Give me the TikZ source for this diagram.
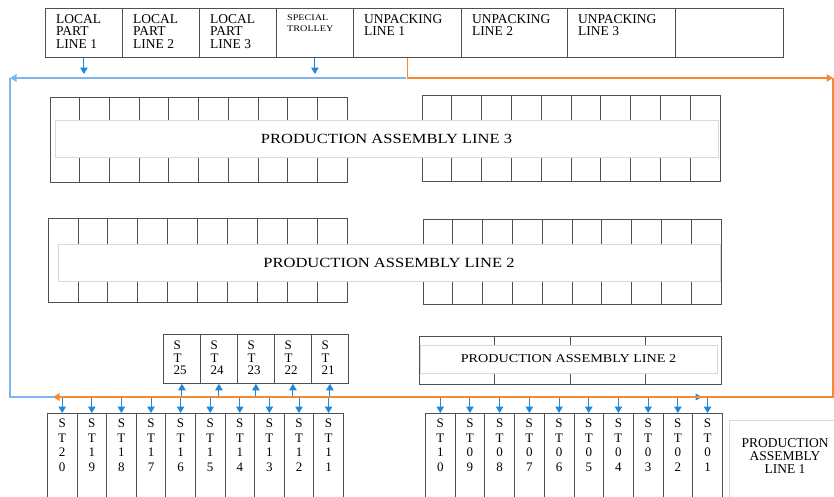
\documentclass[tikz,border=0pt]{standalone}
\usepackage{fontspec}
\setmainfont{Liberation Serif}
\newfontfamily\widefont[FakeStretch=1.18]{Liberation Serif}
\usetikzlibrary{arrows.meta,positioning}
\definecolor{LineBlue}{RGB}{125,182,236}
\definecolor{ArrowBlue}{RGB}{28,136,222}
\definecolor{BeltOrange}{RGB}{244,139,52}
\definecolor{GridGray}{RGB}{80,80,80}

\tikzset{
	gridline/.style={draw=GridGray, line width=0.8pt},
	hdrbox/.style={gridline, anchor=north west, minimum height=49pt, inner sep=0pt},
	hdrtext/.style={anchor=north west, align=left, inner xsep=11pt, inner ysep=6.5pt, font=\fontsize{13.5}{12.3}\selectfont},
	palbox/.style={draw=gray!30, line width=0.8pt, fill=white, inner sep=0pt, font=\widefont\fontsize{14}{16}\selectfont},
	stbox/.style={gridline, anchor=north west, inner sep=0pt, minimum width=29.6pt, minimum height=100pt},
	stboxs/.style={gridline, anchor=north west, inner sep=0pt, minimum width=37pt, minimum height=49pt},
	sttext/.style={anchor=north, align=center, inner xsep=0pt, inner ysep=6pt, font=\fontsize{13}{14.5}\selectfont},
	sttexts/.style={anchor=north west, align=left, inner xsep=10.5pt, inner ysep=7pt, font=\fontsize{13}{12.5}\selectfont},
	beltblue/.style={LineBlue, line width=1.2pt},
	beltorange/.style={BeltOrange, line width=1.8pt},
	tip/.style={-{Triangle[width=7.5pt,length=6.5pt]}},
	arr/.style={ArrowBlue, line width=1pt, tip},
}

\begin{document}
\begin{tikzpicture}[x=1pt,y=1pt,yscale=-1,xscale=1]
	\useasboundingbox (0,0) rectangle (834,496);
	\clip (0,0) rectangle (834,496);

	% Header: part supply and unpacking lines
	\foreach \xa/\w/\nm/\txt in {45/77/lp1/{LOCAL\\PART\\LINE 1}, 122/77/lp2/{LOCAL\\PART\\LINE 2}, 199/77/lp3/{LOCAL\\PART\\LINE 3}, 276/77/strl/{}, 353/108/unp1/{UNPACKING\\LINE 1}, 461/106/unp2/{UNPACKING\\LINE 2}, 567/108/unp3/{UNPACKING\\LINE 3}, 675/108/spare/{}}
	{
		\node[hdrbox, minimum width=\w pt] (\nm) at (\xa,8) {};
		\node[hdrtext] at (\nm.north west) {\txt};
	}
	\node[hdrtext, inner ysep=7pt, font=\widefont\fontsize{8.6}{10.5}\selectfont] at (strl.north west) {SPECIAL\\TROLLEY};

	% Loop corners of the two feeding belts
	\coordinate (feed) at (0,74);
	\coordinate (belt) at (0,397);
	\coordinate (bNE) at (406,78);
	\coordinate (bNW) at (10,78);
	\coordinate (bSW) at (10,397);
	\coordinate (bSE) at (702,397);
	\coordinate (oNE) at (833,78);
	\coordinate (oSE) at (833,397);
	\coordinate (oSW) at (53,397);

	% Blue belt (left loop)
	\draw[beltblue, tip] (bNE) -- (bNW);
	\draw[beltblue] (bNW) -- (bSW) -- (bSE);
	\draw[beltblue, draw=none, fill=ArrowBlue] (bSE) -- ++(-6.5,-3.5) -- ++(0,7) -- cycle;

	% Feeding arrows from the header
	\draw[arr] (lp1.south) -- (lp1.south |- feed);
	\draw[arr] (strl.south) -- (strl.south |- feed);

	% Production assembly lines 3 and 2 (cell rows)
	\foreach \xa/\ya/\xb/\yb/\n in {50/97/347/182/10, 422/95/720/181/10, 48/218/347/302/10, 423/219/721/304/10, 419/336/721/384/4}
	{
		\draw[gridline] (\xa,\ya) rectangle (\xb,\yb);
		\pgfmathtruncatemacro\nn{\n-1}
		\foreach \k in {1,...,\nn}
			\draw[gridline] ({\xa+\k*(\xb-\xa)/\n},\ya) -- ({\xa+\k*(\xb-\xa)/\n},\yb);
	}
	\node[palbox, minimum width=663pt, minimum height=37pt] (pal3) at (386.5,138.5) {PRODUCTION ASSEMBLY LINE 3};
	\node[palbox, minimum width=662pt, minimum height=37pt] (pal2) at (389,262.5) {PRODUCTION ASSEMBLY LINE 2};
	\node[palbox, minimum width=297pt, minimum height=28pt, font=\widefont\fontsize{12}{14}\selectfont] (pal2b) at (568.5,359) {PRODUCTION ASSEMBLY LINE 2};

	% Stations ST25 - ST21
	\foreach \i in {0,...,4}
	{
		\pgfmathtruncatemacro\num{25-\i}
		\node[stboxs] (st\num) at ({163+\i*37},334) {};
		\node[sttexts] at (st\num.north west) {S\\T\\\num};
		\draw[arr] (st\num.south |- belt) -- (st\num.south);
	}

	% Stations ST20 - ST11
	\foreach \i in {0,...,9}
	{
		\pgfmathtruncatemacro\num{20-\i}
		\pgfmathtruncatemacro\ta{\num/10}
		\pgfmathtruncatemacro\tb{mod(\num,10)}
		\node[stbox] (st\num) at ({47+\i*29.6},413) {};
		\node[sttext] at (st\num.north) {S\\T\\\ta\\\tb};
		\draw[arr] (st\num.north |- belt) -- (st\num.north);
	}

	% Stations ST10 - ST01
	\foreach \i in {0,...,9}
	{
		\pgfmathtruncatemacro\num{10-\i}
		\pgfmathtruncatemacro\ta{\num/10}
		\pgfmathtruncatemacro\tb{mod(\num,10)}
		\node[stbox, minimum width=29.7pt] (st\num) at ({425+\i*29.7},413) {};
		\node[sttext] at (st\num.north) {S\\T\\\ta\\\tb};
		\draw[arr] (st\num.north |- belt) -- (st\num.north);
	}

	% Orange belt (right loop)
	\draw[beltorange] (unp1.south) -- (unp1.south |- bNE);
	\draw[beltorange, tip] (unp1.south |- bNE) -- (oNE);
	\draw[beltorange, tip] (oNE) -- (oSE) -- (oSW);

	% Production assembly line 1
	\draw[draw=gray!30, line width=0.8pt] (729,500) -- (729,420) -- (840,420);
	\node[align=center, inner sep=0pt, font=\fontsize{13.5}{13}\selectfont] (pal1) at (785,456) {PRODUCTION\\ASSEMBLY\\LINE 1};
\end{tikzpicture}
\end{document}
